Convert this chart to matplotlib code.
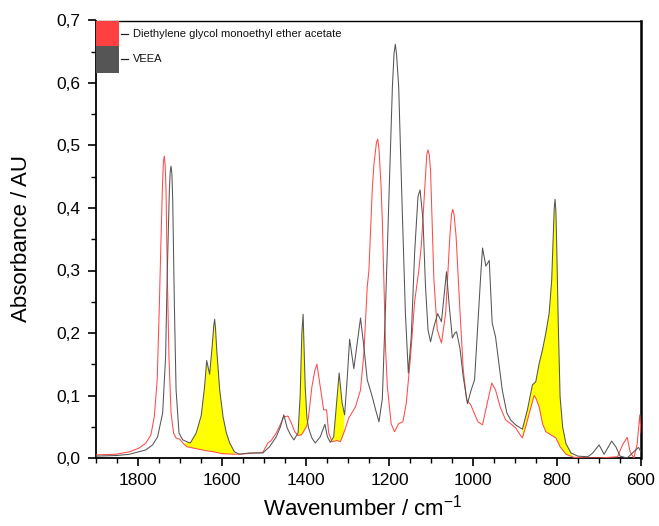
import matplotlib
matplotlib.use("Agg")
import matplotlib.pyplot as plt
import numpy as np
from matplotlib.patches import Rectangle
from matplotlib.ticker import MultipleLocator, FuncFormatter

plt.rcParams["font.family"] = ["Liberation Sans", "DejaVu Sans"]
plt.rcParams["mathtext.fontset"] = "custom"
plt.rcParams["mathtext.rm"] = "Liberation Sans"

LABEL_RED = "Diethylene glycol monoethyl ether acetate"
LABEL_GRAY = "VEEA"

# VEEA spectrum (wavenumber / cm-1, absorbance)
veea_wn = [1900, 1850, 1820, 1781, 1765, 1753, 1741, 1734, 1730, 1725, 1723, 1721, 1719, 1717,
           1713, 1709, 1702, 1693, 1683, 1675, 1661, 1649, 1641, 1636, 1629, 1623,
           1619, 1617, 1615, 1612, 1605, 1597, 1589, 1581, 1570, 1558, 1534, 1502, 1486, 1470,
           1460, 1452, 1444, 1436, 1428, 1418, 1413, 1409, 1406, 1401, 1397, 1393,
           1385, 1377, 1365, 1354, 1348, 1341, 1333, 1326, 1320, 1313, 1307, 1301,
           1295, 1285, 1269, 1261, 1253, 1241, 1233, 1225, 1217, 1209, 1202, 1193,
           1189, 1186, 1183, 1178, 1170, 1162, 1155, 1148, 1140, 1132, 1127, 1120, 1114, 1108,
           1102, 1094, 1085, 1076, 1070, 1064, 1058, 1050, 1044, 1040, 1032, 1024,
           1014, 1005, 997, 989, 982, 978, 970, 962, 955, 947, 939, 931, 920, 911,
           899, 883, 871, 859, 851, 843, 835, 827, 819, 813, 809, 807, 805, 803, 801, 797,
           793, 787, 779, 767, 751, 727, 715, 700, 688, 670, 660, 650, 633, 617,
           606, 600]
veea_abs = [0.003, 0.004, 0.006, 0.013, 0.021, 0.034, 0.072, 0.162, 0.296, 0.429, 0.458, 0.467, 0.455, 0.413,
            0.242, 0.109, 0.040, 0.029, 0.026, 0.024, 0.040, 0.068, 0.114, 0.156, 0.134, 0.178,
            0.212, 0.222, 0.208, 0.173, 0.109, 0.066, 0.040, 0.024, 0.010, 0.006, 0.008, 0.008, 0.018, 0.034,
            0.050, 0.069, 0.048, 0.037, 0.029, 0.040, 0.100, 0.200, 0.230, 0.114, 0.065, 0.048,
            0.032, 0.024, 0.034, 0.054, 0.034, 0.025, 0.034, 0.090, 0.136, 0.088, 0.069, 0.125,
            0.190, 0.143, 0.224, 0.178, 0.125, 0.098, 0.077, 0.058, 0.095, 0.250, 0.400, 0.594,
            0.648, 0.662, 0.645, 0.594, 0.408, 0.232, 0.136, 0.194, 0.328, 0.418, 0.429, 0.381, 0.274, 0.205,
            0.186, 0.210, 0.231, 0.218, 0.258, 0.298, 0.248, 0.192, 0.200, 0.202, 0.176, 0.130,
            0.087, 0.109, 0.125, 0.216, 0.296, 0.336, 0.307, 0.316, 0.216, 0.194, 0.152, 0.109, 0.072, 0.061,
            0.053, 0.046, 0.077, 0.117, 0.122, 0.151, 0.173, 0.200, 0.232, 0.285, 0.365, 0.400, 0.414, 0.395, 0.338, 0.205,
            0.098, 0.050, 0.023, 0.008, 0.003, 0.002, 0.008, 0.021, 0.006, 0.027, 0.018, 0.003, 0.000, 0.010,
            0.017, 0.010]

# Diethylene glycol monoethyl ether acetate spectrum
degmea_wn = [1900, 1852, 1820, 1797, 1781, 1769, 1761, 1754, 1749, 1744, 1741, 1739, 1737, 1735,
             1733, 1730, 1726, 1721, 1715, 1709, 1700, 1690, 1683, 1661, 1640, 1620,
             1600, 1570, 1540, 1502, 1490, 1482, 1470, 1460, 1452, 1442, 1434, 1426,
             1418, 1410, 1405, 1397, 1393, 1385, 1378, 1373, 1365, 1357, 1350, 1345,
             1337, 1325, 1317, 1309, 1297, 1281, 1269, 1261, 1253, 1249, 1241, 1237,
             1231, 1228, 1225, 1220, 1217, 1209, 1205, 1196, 1188, 1178, 1168, 1160, 1150, 1140,
             1130, 1124, 1116, 1111, 1108, 1105, 1102, 1094, 1086, 1076, 1066, 1056, 1052, 1049, 1046, 1041,
             1032, 1024, 1016, 1006, 998, 989, 978, 967, 956, 947, 936, 923, 911,
             899, 883, 875, 863, 855, 851, 843, 835, 827, 815, 803, 793, 779, 760,
             727, 700, 656, 644, 633, 626, 617, 609, 603, 600]
degmea_abs = [0.005, 0.006, 0.010, 0.016, 0.024, 0.037, 0.066, 0.125, 0.242, 0.375, 0.445, 0.475, 0.483, 0.468,
              0.429, 0.296, 0.162, 0.072, 0.040, 0.032, 0.030, 0.022, 0.018, 0.015, 0.012, 0.010,
              0.007, 0.006, 0.007, 0.009, 0.024, 0.028, 0.040, 0.054, 0.066, 0.067, 0.056, 0.042,
              0.036, 0.037, 0.042, 0.052, 0.066, 0.114, 0.140, 0.150, 0.114, 0.077, 0.077, 0.040,
              0.026, 0.028, 0.026, 0.040, 0.064, 0.082, 0.109, 0.168, 0.274, 0.300, 0.430, 0.470,
              0.505, 0.510, 0.495, 0.434, 0.380, 0.170, 0.114, 0.055, 0.042, 0.055, 0.058, 0.087, 0.160, 0.250,
              0.300, 0.340, 0.430, 0.485, 0.493, 0.485, 0.460, 0.285, 0.205, 0.184, 0.231, 0.354, 0.390, 0.398, 0.390, 0.354,
              0.237, 0.141, 0.093, 0.085, 0.072, 0.058, 0.053, 0.087, 0.120, 0.109, 0.082, 0.061, 0.055,
              0.048, 0.032, 0.050, 0.080, 0.100, 0.096, 0.082, 0.055, 0.042, 0.037, 0.032, 0.018, 0.006, 0.001,
              0.000, 0.000, 0.002, 0.021, 0.033, 0.010, 0.000, 0.023, 0.069, 0.040]

# wavenumber windows shaded yellow between the two traces
fill_ranges = [(1690, 1565), (1420, 1396), (1337, 1307), (885, 755)]

RED = "#ff4a4a"
GRAY = "#555555"

fig = plt.figure(figsize=(6.59, 5.26), dpi=100)
ax = fig.add_axes([96 / 659, 1 - 458 / 526, 545 / 659, 437.5 / 526])

vx, vy = np.array(veea_wn), np.array(veea_abs)
dx, dy = np.array(degmea_wn), np.array(degmea_abs)

for hi, lo in fill_ranges:
    mg = (vx <= hi) & (vx >= lo)
    mr = (dx <= hi) & (dx >= lo)
    px = np.concatenate([vx[mg], dx[mr][::-1]])
    py = np.concatenate([vy[mg], dy[mr][::-1]])
    ax.fill(px, py, color="#ffff00", lw=0, zorder=1)

ax.plot(dx, dy, color=RED, lw=0.75, zorder=3)
ax.plot(vx, vy, color=GRAY, lw=0.75, zorder=4)

ax.set_xlim(1900, 600)
ax.set_ylim(0, 0.7)
ax.xaxis.set_major_locator(MultipleLocator(200))
ax.xaxis.set_minor_locator(MultipleLocator(50))
ax.yaxis.set_major_locator(MultipleLocator(0.1))
ax.yaxis.set_minor_locator(MultipleLocator(0.05))
ax.yaxis.set_major_formatter(FuncFormatter(lambda v, p: f"{v:.1f}".replace(".", ",")))
ax.tick_params(which="major", direction="out", length=6, width=1.2, labelsize=12.5, pad=5)
ax.tick_params(which="minor", direction="out", length=3.5, width=1.0)

ax.spines["left"].set_linewidth(1.3)
ax.spines["bottom"].set_linewidth(1.3)
ax.spines["top"].set_linewidth(1.0)
ax.spines["right"].set_linewidth(1.8)

# Origin-style legend block stuck to the top-left corner
ax.add_patch(Rectangle((0, 0.9406), 0.042, 0.0594, transform=ax.transAxes,
                       color="#ff4040", lw=0, zorder=5, clip_on=False))
ax.add_patch(Rectangle((0, 0.881), 0.042, 0.0596, transform=ax.transAxes,
                       color=GRAY, lw=0, zorder=5, clip_on=False))
for yy, lab in [(0.970, LABEL_RED), (0.911, LABEL_GRAY)]:
    ax.plot([0.046, 0.059], [yy, yy], color="#222222", lw=0.9, transform=ax.transAxes, zorder=5)
    ax.text(0.068, yy, lab, transform=ax.transAxes, fontsize=8, va="center", ha="left", color="#111111")

fig.text(22 / 659, 1 - 239 / 526, "Absorbance / AU", rotation=90, fontsize=16,
         ha="center", va="center")
fig.text(0.55, 1 - 508 / 526, r"Wavenumber / cm$^{\mathrm{-1}}$", fontsize=16,
         ha="center", va="center")

fig.savefig("out.png", dpi=100)
